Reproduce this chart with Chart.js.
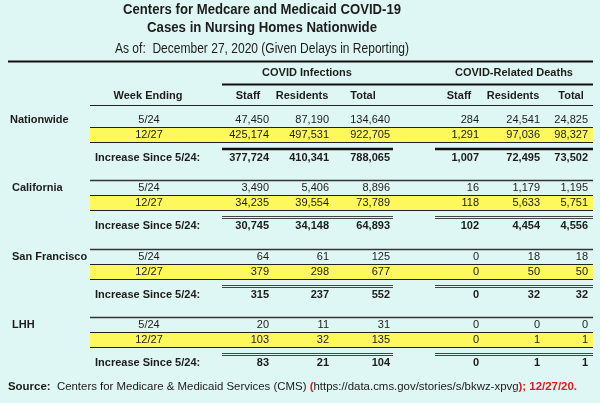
<!DOCTYPE html>
<html><head><meta charset="utf-8">
<script src="https://cdn.jsdelivr.net/npm/chart.js@4.4.1/dist/chart.umd.min.js"></script>
<style>html,body{margin:0;padding:0;background:#dff7f4;}canvas{display:block}</style>
</head><body><canvas id="c" width="600" height="403"></canvas>
<script>
// ---------- DATA ----------
const titleLines = ['Centers for Medcare and Medicaid COVID-19', 'Cases in Nursing Homes Nationwide', 'As of:  December 27, 2020 (Given Delays in Reporting)'];
const groupHeaders = ['COVID Infections', 'COVID-Related Deaths'];
const columnHeaders = ['Week Ending', 'Staff', 'Residents', 'Total', 'Staff', 'Residents', 'Total'];
const regions = ['Nationwide', 'California', 'San Francisco', 'LHH'];
const weeks = ['5/24', '12/27'];
const increaseLabel = 'Increase Since 5/24:';
// per region: [week 5/24, week 12/27, increase since 5/24]
const infStaff      = [[47450, 425174, 377724], [3490, 34235, 30745], [64, 379, 315], [20, 103, 83]];
const infResidents  = [[87190, 497531, 410341], [5406, 39554, 34148], [61, 298, 237], [11, 32, 21]];
const infTotal      = [[134640, 922705, 788065], [8896, 73789, 64893], [125, 677, 552], [31, 135, 104]];
const deathStaff    = [[284, 1291, 1007], [16, 118, 102], [0, 0, 0], [0, 0, 0]];
const deathResidents= [[24541, 97036, 72495], [1179, 5633, 4454], [18, 50, 32], [0, 1, 1]];
const deathTotal    = [[24825, 98327, 73502], [1195, 5751, 4556], [18, 50, 32], [0, 1, 1]];
const sourceParts = [
  ['Source:', 'b', '#1a1a1a'], ['  Centers for Medicare & Medicaid Services (CMS) ', 'n', '#1a1a1a'],
  ['(', 'b', '#e8141c'], ['https://data.cms.gov/stories/s/bkwz-xpvg', 'n', '#1a1a1a'],
  [')', 'b', '#e8141c'], ['; 12/27/20.', 'b', '#e8141c']
];

// ---------- LAYOUT (scale units = px of the 600x403 sheet) ----------
const valueColumns = [infStaff, infResidents, infTotal, deathStaff, deathResidents, deathTotal];
const COL_RIGHT = [269, 329, 390, 479, 540, 588];
const HEADER_CENTER = [148, 248, 302, 363, 459, 513, 571];
const GROUP_CENTER = [307, 514];
const WEEK_X = 149;
const BLOCK_Y = [120, 188, 257, 325];
const ROW_OFF = [0, 15, 37.5];
const TABLE_L = 90, TABLE_R = 593;
const FONT = '"Liberation Sans", Arial, sans-serif';
const TEXT = '#1c1c1c';

const datasets = valueColumns.map((col, c) => ({
  label: 'col' + c,
  data: col.flatMap((vals, r) => vals.map((v, k) => ({ x: COL_RIGHT[c], y: BLOCK_Y[r] + ROW_OFF[k], v: v, bold: k === 2 }))),
  pointRadius: 0, pointHoverRadius: 0, showLine: false
}));

function hline(ctx, xs, x1, x2, yv, ys, w, color) {
  ctx.save();
  ctx.strokeStyle = color; ctx.lineWidth = w;
  ctx.beginPath();
  const y = ys.getPixelForValue(yv);
  ctx.moveTo(xs.getPixelForValue(x1), y); ctx.lineTo(xs.getPixelForValue(x2), y);
  ctx.stroke(); ctx.restore();
}

const tablePlugin = {
  id: 'table',
  beforeDraw(chart) {
    const ctx = chart.ctx;
    ctx.save(); ctx.fillStyle = '#dff7f4'; ctx.fillRect(0, 0, chart.width, chart.height); ctx.restore();
  },
  beforeDatasetsDraw(chart) {
    const ctx = chart.ctx, xs = chart.scales.x, ys = chart.scales.y;
    // titles
    ctx.save();
    ctx.fillStyle = TEXT; ctx.textAlign = 'center'; ctx.textBaseline = 'middle';
    const tY = [10, 28.5, 49], tW = [278, 230, 294];
    titleLines.forEach((t, i) => {
      ctx.font = (i < 2 ? 'bold ' : '') + '14px ' + FONT;
      ctx.fillText(t, xs.getPixelForValue(262), ys.getPixelForValue(tY[i]), tW[i]);
    });
    ctx.restore();
    // top rules
    hline(ctx, xs, 8, 593, 61.5, ys, 2.2, '#111');
    hline(ctx, xs, 222, 593, 84.5, ys, 2.2, '#111');
    hline(ctx, xs, TABLE_L, TABLE_R, 105.5, ys, 1.2, '#222');
    // group headers and column headers
    ctx.save();
    ctx.fillStyle = TEXT; ctx.textAlign = 'center'; ctx.textBaseline = 'middle';
    ctx.font = 'bold 11px ' + FONT;
    groupHeaders.forEach((g, i) => ctx.fillText(g, xs.getPixelForValue(GROUP_CENTER[i]), ys.getPixelForValue(73)));
    columnHeaders.forEach((h, i) => ctx.fillText(h, xs.getPixelForValue(HEADER_CENTER[i]), ys.getPixelForValue(96)));
    ctx.restore();
    // blocks
    regions.forEach((reg, r) => {
      const b = BLOCK_Y[r];
      if (r > 0) hline(ctx, xs, TABLE_L, TABLE_R, b - 7.5, ys, 1.4, '#333');
      // yellow band
      const yTop = ys.getPixelForValue(b + ROW_OFF[1] - 7.5), yBot = ys.getPixelForValue(b + ROW_OFF[1] + 7.5);
      ctx.save();
      ctx.fillStyle = '#fdf85c';
      ctx.fillRect(xs.getPixelForValue(TABLE_L), yTop, xs.getPixelForValue(TABLE_R) - xs.getPixelForValue(TABLE_L), yBot - yTop);
      ctx.restore();
      hline(ctx, xs, TABLE_L, TABLE_R, b + ROW_OFF[1] - 7.5, ys, 1.2, '#222');
      hline(ctx, xs, TABLE_L, TABLE_R, b + ROW_OFF[1] + 7.5, ys, 1.2, '#222');
      // sum rules
      if (r === 0) {
        hline(ctx, xs, 222, 393, b + 29, ys, 2.4, '#111');
        hline(ctx, xs, 435, 593, b + 29, ys, 2.4, '#111');
      } else {
        [b + 28.5, b + 30.5].forEach(yy => {
          hline(ctx, xs, 222, 393, yy, ys, 1, '#444');
          hline(ctx, xs, 435, 593, yy, ys, 1, '#444');
        });
      }
      // labels
      ctx.save();
      ctx.fillStyle = TEXT; ctx.textBaseline = 'middle';
      ctx.font = 'bold 11px ' + FONT; ctx.textAlign = 'left';
      ctx.fillText(reg, xs.getPixelForValue(r === 0 ? 10 : 12), ys.getPixelForValue(b));
      ctx.fillText(increaseLabel, xs.getPixelForValue(95), ys.getPixelForValue(b + ROW_OFF[2]));
      ctx.font = '11px ' + FONT; ctx.textAlign = 'center';
      weeks.forEach((w, k) => ctx.fillText(w, xs.getPixelForValue(WEEK_X), ys.getPixelForValue(b + ROW_OFF[k])));
      ctx.restore();
    });
    // source line (stretched horizontally to the reference width)
    ctx.save();
    ctx.textBaseline = 'middle'; ctx.textAlign = 'left';
    const fontFor = p => (p[1] === 'b' ? 'bold ' : '') + '11px ' + FONT;
    let total = 0;
    sourceParts.forEach(p => { ctx.font = fontFor(p); total += ctx.measureText(p[0]).width; });
    const x0 = xs.getPixelForValue(8), x1 = xs.getPixelForValue(577);
    const k = (x1 - x0) / total;
    ctx.translate(x0, ys.getPixelForValue(387));
    ctx.scale(k, 1);
    let x = 0;
    sourceParts.forEach(p => {
      ctx.font = fontFor(p);
      ctx.fillStyle = p[2];
      ctx.fillText(p[0], x, 0);
      x += ctx.measureText(p[0]).width;
    });
    ctx.restore();
  },
  afterDatasetsDraw(chart) {
    const ctx = chart.ctx;
    ctx.save();
    ctx.fillStyle = TEXT; ctx.textAlign = 'right'; ctx.textBaseline = 'middle';
    chart.data.datasets.forEach((ds, di) => {
      const meta = chart.getDatasetMeta(di);
      meta.data.forEach((el, i) => {
        const d = ds.data[i];
        ctx.font = (d.bold ? 'bold ' : '') + '11px ' + FONT;
        ctx.fillText(d.v.toLocaleString('en-US'), el.x, el.y);
      });
    });
    ctx.restore();
  }
};

new Chart(document.getElementById('c'), {
  type: 'scatter',
  data: { datasets },
  options: {
    responsive: false, animation: false, events: [],
    layout: { padding: 0 },
    plugins: { legend: { display: false }, tooltip: { enabled: false }, title: { display: false } },
    scales: {
      x: { type: 'linear', min: 0, max: 600, display: false },
      y: { type: 'linear', min: 0, max: 403, reverse: true, display: false }
    }
  },
  plugins: [tablePlugin]
});
</script>
</body></html>
